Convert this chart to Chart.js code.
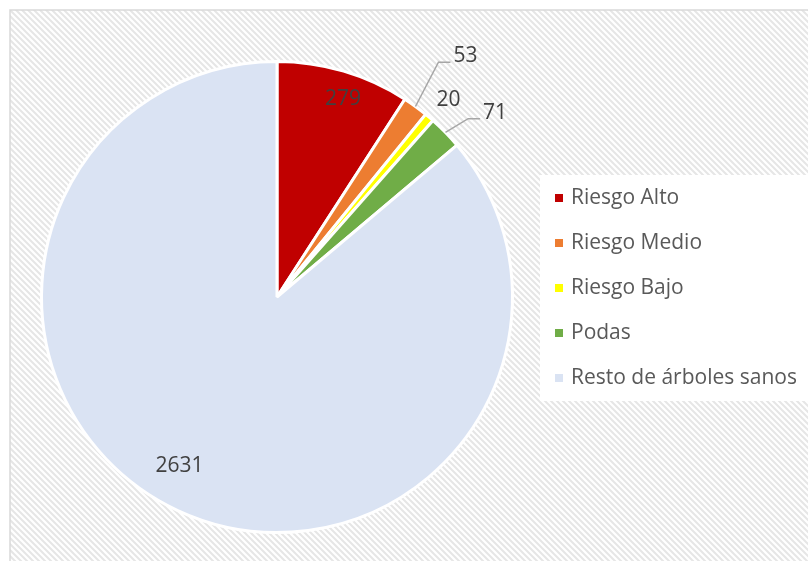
<!DOCTYPE html>
<html>
<head>
<meta charset="utf-8">
<script src="https://cdn.jsdelivr.net/npm/chart.js@4"></script>
<style>
  html, body { margin: 0; padding: 0; background: #fff; }
  #wrap { width: 808px; height: 561px; }
  canvas { display: block; }
</style>
</head>
<body>
<div id="wrap"><canvas id="arboles" width="808" height="561"></canvas></div>
<script>
const categorias = ['Riesgo Alto', 'Riesgo Medio', 'Riesgo Bajo', 'Podas', 'Resto de árboles sanos'];
const arboles = [279, 53, 20, 71, 2631];
const colores = ['#C00000', '#ED7D31', '#FFFF00', '#70AD47', '#DAE3F3'];

// where each value label sits: fraction of the radius and angle shift (deg)
const etiquetaRadio = [0.885, 1.3, 1.11, 1.22, 0.83];
const etiquetaGiro = [2, 2, 0.7, 4.3, 5];
// leader lines for the small slices (null = none)
const guias = [null, { r: 1.21, giro: -1.5 }, null, { r: 1.11, giro: 1.3 }, null];

const FUENTE = '"Open Sans", Lato, sans-serif';

function rayado() {
	let p = document.createElement('canvas');
	p.width = 6; p.height = 6;
	let c = p.getContext('2d');
	c.fillStyle = '#ffffff';
	c.fillRect(0, 0, 6, 6);
	c.strokeStyle = '#e6e6e6';
	c.lineWidth = 2;
	c.beginPath();
	c.moveTo(-1, -1); c.lineTo(7, 7);
	c.moveTo(-4, 2); c.lineTo(4, 10);
	c.moveTo(2, -4); c.lineTo(10, 4);
	c.stroke();
	return p;
}

const fondo = {
	id: 'fondo',
	beforeDraw(chart) {
		let ctx = chart.ctx;
		ctx.save();
		ctx.fillStyle = '#fff';
		ctx.fillRect(0, 0, chart.width, chart.height);
		ctx.fillStyle = ctx.createPattern(rayado(), 'repeat');
		ctx.fillRect(10, 10, chart.width, chart.height);
		ctx.strokeStyle = '#d9d9d9';
		ctx.lineWidth = 1.5;
		ctx.strokeRect(10, 10, chart.width + 10, chart.height + 10);
		// legend panel
		ctx.fillStyle = '#ffffff';
		ctx.fillRect(540, 175, 270, 226);
		ctx.restore();
	}
};

const leyenda = {
	id: 'leyenda',
	afterDraw(chart) {
		let ctx = chart.ctx;
		ctx.save();
		ctx.font = '21px ' + FUENTE;
		ctx.textBaseline = 'middle';
		categorias.forEach((nombre, i) => {
			let y = 198 + i * 45;
			ctx.fillStyle = colores[i];
			ctx.fillRect(555, y - 4, 8, 8);
			ctx.fillStyle = '#595959';
			ctx.fillText(nombre, 571, y);
		});
		ctx.restore();
	}
};

const etiquetas = {
	id: 'etiquetas',
	afterDatasetsDraw(chart) {
		let ctx = chart.ctx;
		let arcos = chart.getDatasetMeta(0).data;
		ctx.save();
		ctx.font = '21px ' + FUENTE;
		ctx.fillStyle = '#404040';
		ctx.textBaseline = 'middle';
		arcos.forEach((arco, i) => {
			let { x, y, startAngle, endAngle, outerRadius } = arco.getProps(['x', 'y', 'startAngle', 'endAngle', 'outerRadius'], true);
			let medio = (startAngle + endAngle) / 2;
			let texto = String(arboles[i]);
			let g = guias[i];
			if (g) {
				let a = medio + g.giro * Math.PI / 180;
				let x0 = x + Math.cos(medio) * outerRadius;
				let y0 = y + Math.sin(medio) * outerRadius;
				let x1 = x + Math.cos(a) * outerRadius * g.r;
				let y1 = y + Math.sin(a) * outerRadius * g.r;
				ctx.strokeStyle = '#a6a6a6';
				ctx.lineWidth = 1.5;
				ctx.beginPath();
				ctx.moveTo(x0, y0);
				ctx.lineTo(x1, y1);
				ctx.lineTo(x1 + 12, y1);
				ctx.stroke();
				ctx.textAlign = 'left';
				ctx.fillText(texto, x1 + 15, y1 - 6);
			} else {
				let a = medio + etiquetaGiro[i] * Math.PI / 180;
				let r = outerRadius * etiquetaRadio[i];
				ctx.textAlign = 'center';
				ctx.fillText(texto, x + Math.cos(a) * r, y + Math.sin(a) * r);
			}
		});
		ctx.restore();
	}
};

new Chart(document.getElementById('arboles').getContext('2d'), {
	type: 'pie',
	data: {
		labels: categorias,
		datasets: [{
			data: arboles,
			backgroundColor: colores,
			borderColor: '#ffffff',
			borderWidth: 3
		}]
	},
	options: {
		responsive: false,
		animation: false,
		layout: { padding: { left: 40, top: 60, right: 294, bottom: 27 } },
		plugins: {
			legend: { display: false },
			tooltip: { enabled: false }
		}
	},
	plugins: [fondo, etiquetas, leyenda]
});
</script>
</body>
</html>
